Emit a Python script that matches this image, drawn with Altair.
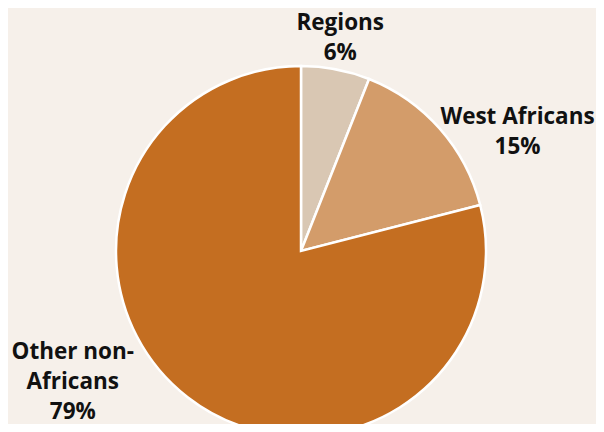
import altair as alt
import pandas as pd
import math

categories = ["Regions", "West Africans", "Other non-Africans"]
values = [6, 15, 79]
labels = ["Regions\n6%", "West Africans\n15%", "Other non-\nAfricans\n79%"]
colors = ["#d9c7b3", "#d39c6a", "#c46e21"]

df = pd.DataFrame({"cat": categories, "value": values, "label": labels, "idx": [0, 1, 2]})

CX, CY, R = 293, 243, 185

pie = alt.Chart(df).mark_arc(stroke="white", strokeWidth=2.5).encode(
    theta=alt.Theta("value:Q", stack=True),
    order=alt.Order("idx:Q"),
    color=alt.Color("cat:N", scale=alt.Scale(domain=categories, range=colors), legend=None),
    x=alt.value(CX), y=alt.value(CY), radius=alt.value(R),
)

offsets = {"Regions": (-2, -12, 220), "West Africans": (29, 31, 250), "Other non-Africans": (-75, -97, 250)}
texts = []
for c in categories:
    dx, dy, r = offsets[c]
    texts.append(
        alt.Chart(df)
        .transform_window(cum="sum(value)", sort=[alt.SortField("idx")])
        .transform_calculate(mid="datum.cum - datum.value / 2")
        .transform_filter(alt.datum.cat == c)
        .mark_text(font="Open Sans", fontWeight="bold", fontSize=22.5, lineBreak="\n",
                   lineHeight=30, color="#111111", dx=dx, dy=dy, baseline="middle", align="center")
        .encode(
            theta=alt.Theta("mid:Q", stack=None, scale=alt.Scale(domain=[0, 100], range=[0, 2 * math.pi])),
            text="label:N", x=alt.value(CX), y=alt.value(CY), radius=alt.value(r),
        )
    )

chart = alt.layer(pie, *texts).resolve_scale(theta="independent").properties(
    width=588, height=416, autosize=alt.AutoSizeParams(type="none"), padding=0,
    background="#f6f0ea",
).configure_view(stroke=None)

chart.save("out.html", embed_options={"renderer": "svg", "actions": False})
